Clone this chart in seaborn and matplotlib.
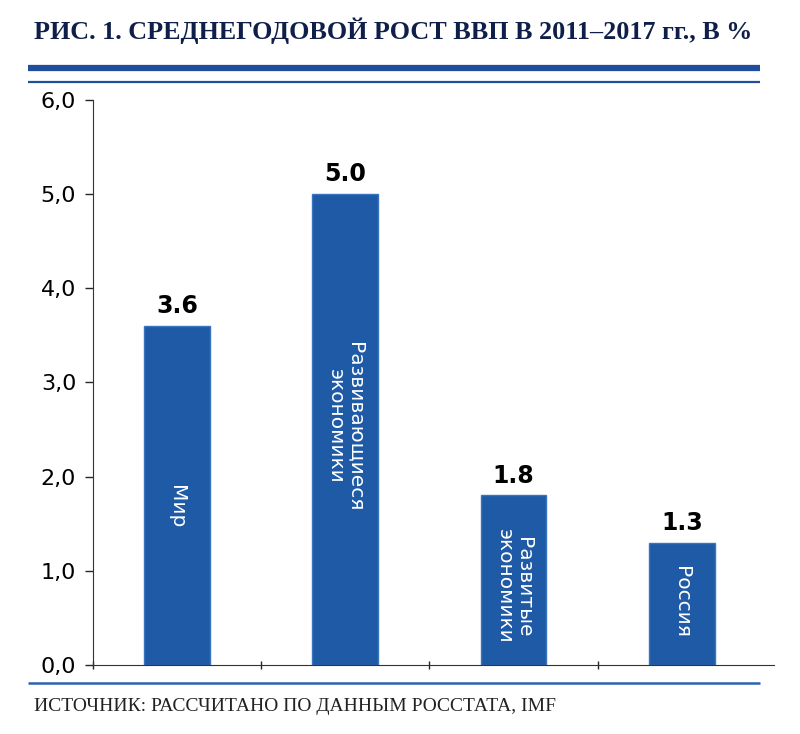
import matplotlib.pyplot as plt
import pandas as pd
import seaborn as sns
from matplotlib.lines import Line2D
from matplotlib.ticker import FuncFormatter
from matplotlib import font_manager

# data
groups = ['Мир', 'Развивающиеся\nэкономики', 'Развитые\nэкономики', 'Россия']
growth = [3.6, 5.0, 1.8, 1.3]
value_labels = ['3.6', '5.0', '1.8', '1.3']
# vertical position (data units) of the label inside each bar
label_pos = [1.68, 2.53, 0.83, 0.67]

df = pd.DataFrame({'group': groups, 'growth': growth})

sns.set_style('white')
plt.rcParams['font.family'] = ['DejaVu Sans']

# condensed serif for title/source if available
names = {f.name for f in font_manager.fontManager.ttflist}
serif = 'DejaVu Serif Condensed' if 'DejaVu Serif Condensed' in names else 'Liberation Serif'

fig = plt.figure(figsize=(8, 7.34), dpi=100)
ax = fig.add_axes([0.116, 0.094, 0.852, 0.77])

bar_color = '#1F5AA6'
sns.barplot(data=df, x='group', y='growth', color=bar_color, width=0.39,
            edgecolor='#3A74BF', linewidth=1, saturation=1, ax=ax)

ax.set_xlim(-0.5, 3.55)
ax.set_ylim(0, 6)
ax.set_yticks([0, 1, 2, 3, 4, 5, 6])
ax.yaxis.set_major_formatter(FuncFormatter(lambda v, p: f'{v:.1f}'.replace('.', ',')))
ax.tick_params(axis='y', labelsize=16, length=6, width=1, left=True, pad=6,
               labelcolor='black')
ax.set_xticks([-0.5, 0.5, 1.5, 2.5])
ax.set_xticklabels([])
ax.tick_params(axis='x', length=6, width=1, bottom=True, direction='inout')
ax.set_xlabel('')
ax.set_ylabel('')
for side in ['top', 'right']:
    ax.spines[side].set_visible(False)
ax.spines['left'].set_color('#333333')
ax.spines['bottom'].set_color('#333333')

# value labels above bars
for i, (v, t) in enumerate(zip(growth, value_labels)):
    ax.text(i, v + 0.08, t, ha='center', va='bottom', fontsize=17,
            fontweight='bold', color='black')

# category names rotated inside bars
for i, (g, yp) in enumerate(zip(groups, label_pos)):
    ax.text(i, yp, g, rotation=-90, ha='center', va='center', fontsize=14.5,
            color='white', linespacing=1.0)

# title, rules and source
fig.text(0.043, 0.958, 'РИС. 1. СРЕДНЕГОДОВОЙ РОСТ ВВП В 2011–2017 гг., В %',
         fontsize=18.8, fontweight='bold', color='#0F1F4A', family=serif,
         ha='left', va='center')
fig.add_artist(Line2D([0.035, 0.95], [0.908, 0.908], color='#1F4E9C', lw=4.5,
                      solid_capstyle='butt'))
fig.add_artist(Line2D([0.035, 0.95], [0.888, 0.888], color='#1F4E9C', lw=1.6,
                      solid_capstyle='butt'))
fig.add_artist(Line2D([0.035, 0.95], [0.069, 0.069], color='#2A64B0', lw=1.8,
                      solid_capstyle='butt'))
fig.text(0.043, 0.037, 'ИСТОЧНИК: РАССЧИТАНО ПО ДАННЫМ РОССТАТА, IMF',
         fontsize=14, color='#222222', family=serif,
         ha='left', va='center')

fig.savefig('out.png', dpi=100)
